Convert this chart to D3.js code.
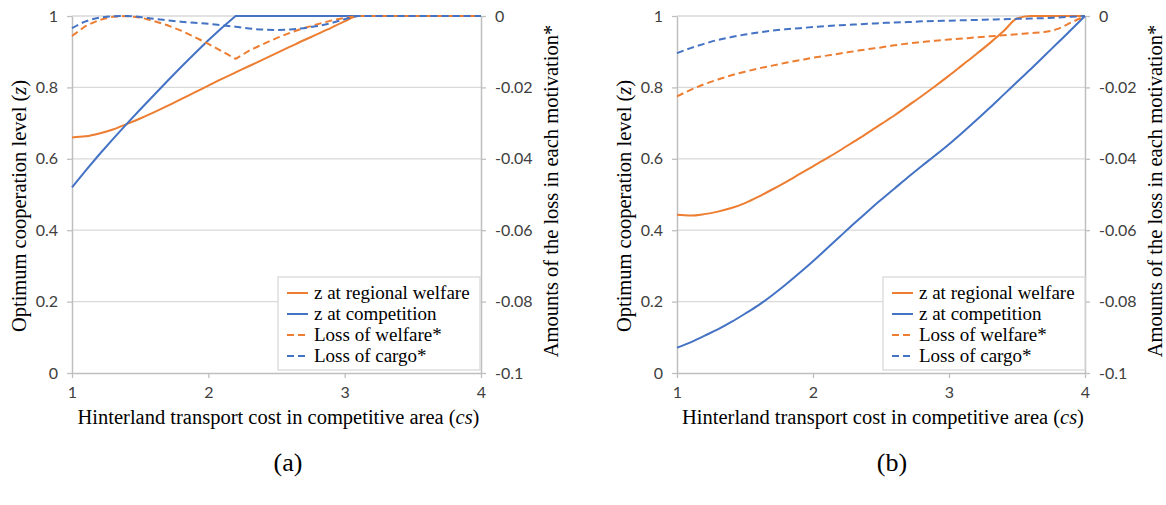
<!DOCTYPE html>
<html>
<head>
<meta charset="utf-8">
<script src="https://cdn.jsdelivr.net/npm/d3@7/dist/d3.min.js"></script>
<style>
  html, body { margin: 0; padding: 0; background: #fff; }
  svg { display: block; }
  .tick text { font-family: Lato, "Open Sans", sans-serif; font-size: 16px; fill: #404040; }
  .serif { font-family: "Liberation Serif", "Times New Roman", serif; fill: #000; }
</style>
</head>
<body>
<svg id="chart" width="1166" height="505"></svg>
<script>
// ---- data ----
const cs = [1.0,1.1,1.2,1.3,1.4,1.5,1.6,1.7,1.8,1.9,2.0,2.1,2.2,2.3,2.4,2.5,2.6,2.7,2.8,2.9,3.0,3.1,3.2,3.3,3.4,3.5,3.6,3.7,3.8,3.9,4.0];

// panel (a)
const zWelfareA = [0.66,0.663,0.671,0.682,0.697,0.713,0.73,0.748,0.767,0.786,0.805,0.824,0.842,0.86,0.878,0.896,0.914,0.932,0.949,0.967,0.985,1,1,1,1,1,1,1,1,1,1];
const zCompA = [0.52,0.567,0.612,0.655,0.697,0.738,0.778,0.818,0.857,0.895,0.932,0.967,1,1,1,1,1,1,1,1,1,1,1,1,1,1,1,1,1,1,1];
const lossWelfareA = [-0.0056,-0.0028,-0.0011,-0.0002,0,-0.0004,-0.0014,-0.0026,-0.0041,-0.0059,-0.0078,-0.0099,-0.012,-0.0097,-0.0079,-0.0062,-0.0047,-0.0034,-0.0023,-0.0013,-0.0005,0,0,0,0,0,0,0,0,0,0];
const lossCargoA = [-0.0034,-0.0015,-0.0005,-0.0001,0,-0.0003,-0.0008,-0.0012,-0.0016,-0.0019,-0.0022,-0.0026,-0.003,-0.0035,-0.0038,-0.0039,-0.0038,-0.0034,-0.0028,-0.002,-0.0009,0,0,0,0,0,0,0,0,0,0];

// panel (b)
const zWelfareB = [0.443,0.441,0.445,0.452,0.462,0.476,0.494,0.514,0.535,0.557,0.579,0.601,0.624,0.648,0.672,0.697,0.722,0.749,0.776,0.804,0.833,0.863,0.893,0.924,0.957,0.993,1,1,1,1,1];
const zCompB = [0.071,0.086,0.104,0.122,0.143,0.166,0.19,0.218,0.248,0.28,0.313,0.348,0.383,0.418,0.452,0.485,0.517,0.549,0.58,0.61,0.641,0.674,0.708,0.743,0.779,0.815,0.851,0.888,0.925,0.962,1.0];
const lossWelfareB = [-0.0225,-0.0207,-0.0191,-0.0178,-0.0166,-0.0156,-0.0147,-0.0139,-0.0131,-0.0124,-0.0117,-0.0111,-0.0105,-0.0099,-0.0093,-0.0088,-0.0082,-0.0077,-0.0073,-0.0069,-0.0066,-0.0063,-0.006,-0.0057,-0.0054,-0.0051,-0.0048,-0.0045,-0.0036,-0.0018,0];
const lossCargoB = [-0.0104,-0.009,-0.0078,-0.0067,-0.0059,-0.0052,-0.0046,-0.0041,-0.0037,-0.0034,-0.0031,-0.0028,-0.0026,-0.0024,-0.0022,-0.002,-0.0018,-0.0017,-0.0015,-0.0014,-0.0013,-0.0012,-0.0011,-0.001,-0.0009,-0.0008,-0.0007,-0.0006,-0.0004,-0.0002,0];

const xTicks = [1,2,3,4];
const yLeftTicks = [0,0.2,0.4,0.6,0.8,1];
const yRightTicks = [0,-0.02,-0.04,-0.06,-0.08,-0.1];
const legendLabels = ["z at regional welfare","z at competition","Loss of welfare*","Loss of cargo*"];
const panelLabels = ["(a)","(b)"];

// ---- drawing ----
const ORANGE = "#ED7D31", BLUE = "#4472C4";
const svg = d3.select("#chart");
const LIN = d3.curveLinear, MONO = d3.curveMonotoneX;

const panels = [
  {x0:72, x1:481, label:panelLabels[0], labelX:288,
   series:[zWelfareA,zCompA,lossWelfareA,lossCargoA], curves:[MONO,LIN,LIN,MONO]},
  {x0:677, x1:1085, label:panelLabels[1], labelX:892,
   series:[zWelfareB,zCompB,lossWelfareB,lossCargoB], curves:[MONO,MONO,MONO,MONO]}
];
const plotTop = 16, plotBottom = 373;
const seriesStyle = [
  {color:ORANGE, dash:null, axis:"L"},
  {color:BLUE, dash:null, axis:"L"},
  {color:ORANGE, dash:"7,4", axis:"R"},
  {color:BLUE, dash:"7,4", axis:"R"}
];

panels.forEach((p, pi) => {
  const x = d3.scaleLinear().domain([1,4]).range([p.x0,p.x1]);
  const yL = d3.scaleLinear().domain([0,1]).range([plotBottom,plotTop]);
  const yR = d3.scaleLinear().domain([-0.1,0]).range([plotBottom,plotTop]);
  const g = svg.append("g");

  // gridlines
  g.append("g").selectAll("line").data(yLeftTicks.filter(d=>d>0)).join("line")
    .attr("x1",p.x0).attr("x2",p.x1).attr("y1",d=>yL(d)).attr("y2",d=>yL(d))
    .attr("stroke","#d9d9d9").attr("stroke-width",1.3);

  // axes
  const ax = g.append("g").attr("transform",`translate(0,${plotBottom})`)
    .call(d3.axisBottom(x).tickValues(xTicks).tickFormat(d3.format("d")).tickSizeOuter(0).tickSizeInner(5).tickPadding(9));
  const al = g.append("g").attr("transform",`translate(${p.x0},0)`)
    .call(d3.axisLeft(yL).tickValues(yLeftTicks).tickFormat(d=>d===0||d===1?d3.format("d")(d):d3.format(".1f")(d)).tickSizeOuter(0).tickSizeInner(5).tickPadding(9));
  const ar = g.append("g").attr("transform",`translate(${p.x1},0)`)
    .call(d3.axisRight(yR).tickValues(yRightTicks).tickFormat(d=>d===0?"0":(d===-0.1?"-0.1":d3.format(".2f")(d).replace("−","-"))).tickSizeOuter(0).tickSizeInner(5).tickPadding(9));
  [ax,al,ar].forEach(a => {
    a.select(".domain").attr("stroke","#bfbfbf").attr("stroke-width",1.5);
    a.selectAll(".tick line").attr("stroke","#bfbfbf").attr("stroke-width",1.3);
    a.selectAll(".tick text").attr("fill","#404040");
  });

  // series
  p.series.forEach((vals, si) => {
    const st = seriesStyle[si];
    const ys = st.axis === "L" ? yL : yR;
    const line = d3.line().x((d,i)=>x(cs[i])).y(d=>ys(d)).curve(p.curves[si]);
    g.append("path").datum(vals).attr("d",line)
      .attr("fill","none").attr("stroke",st.color).attr("stroke-width",2)
      .attr("stroke-dasharray",st.dash).attr("stroke-linejoin","round");
  });

  // legend
  const lx = p.x0 + 206, ly = 277, lw = 202, lh = 93;
  const lg = g.append("g");
  lg.append("rect").attr("x",lx).attr("y",ly).attr("width",lw).attr("height",lh)
    .attr("fill","#fff").attr("stroke","#d9d9d9").attr("stroke-width",1.3);
  legendLabels.forEach((t,i) => {
    const st = seriesStyle[i];
    const yy = ly + 16 + i*21;
    lg.append("line").attr("x1",lx+9).attr("x2",lx+30).attr("y1",yy).attr("y2",yy)
      .attr("stroke",st.color).attr("stroke-width",2).attr("stroke-dasharray",st.dash ? "7,4" : null);
    lg.append("text").attr("class","serif").attr("x",lx+36).attr("y",yy).attr("dy","0.33em")
      .attr("font-size","19px").text(t);
  });

  // axis titles
  const xt = svg.append("text").attr("class","serif").attr("font-size","20.5px")
    .attr("x",(p.x0+p.x1)/2 + 2).attr("y",424).attr("text-anchor","middle");
  xt.append("tspan").text("Hinterland transport cost in competitive area (");
  xt.append("tspan").attr("font-style","italic").text("cs");
  xt.append("tspan").text(")");

  const lt = svg.append("text").attr("class","serif").attr("font-size","20.5px")
    .attr("transform",`translate(${p.x0-46},${206}) rotate(-90)`).attr("text-anchor","middle");
  lt.append("tspan").text("Optimum cooperation level (");
  lt.append("tspan").attr("font-style","italic").text("z");
  lt.append("tspan").text(")");

  svg.append("text").attr("class","serif").attr("font-size","20.5px")
    .attr("transform",`translate(${p.x1+77},${191}) rotate(-90)`).attr("text-anchor","middle")
    .text("Amounts of the loss in each motivation*");

  svg.append("text").attr("class","serif").attr("font-size","26px")
    .attr("x",p.labelX).attr("y",471).attr("text-anchor","middle").text(p.label);
});
</script>
</body>
</html>
